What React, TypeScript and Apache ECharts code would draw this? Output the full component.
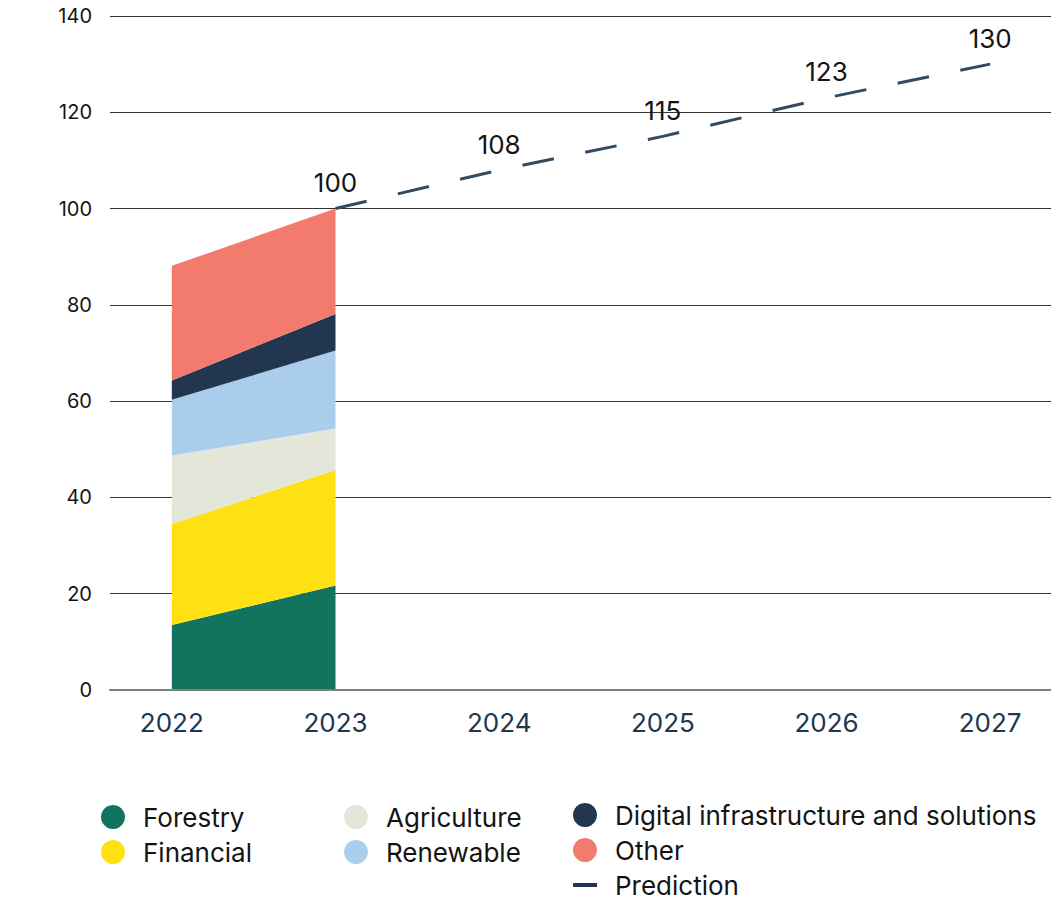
import React, { useEffect, useRef } from "react";
import * as echarts from "echarts";

const years = ["2022", "2023", "2024", "2025", "2026", "2027"];
const forestry = [13.5, 21.7];
const financial = [21.0, 24.0];
const agriculture = [14.2, 8.6];
const renewable = [11.6, 16.2];
const digital = [4.0, 7.6];
const other = [23.8, 21.9];
const prediction = ["-", 100, 108, 115, 123, 130];

const FONT = "Inter, 'Noto Sans', sans-serif";

export default function App() {
  const ref = useRef<HTMLDivElement>(null);
  useEffect(() => {
    document.body.style.margin = "0";
    const chart = echarts.init(ref.current!, null, { renderer: "svg" });
    const area = (name: string, data: number[], color: string) => ({
      name,
      type: "line",
      stack: "total",
      xAxisIndex: 1,
      yAxisIndex: 1,
      data,
      showSymbol: false,
      symbol: "none",
      lineStyle: { width: 0 },
      areaStyle: { color, opacity: 1 },
      itemStyle: { color },
      z: 2,
    });
    const legendText = {
      fontSize: 26,
      color: "#141414",
      fontFamily: FONT,
      lineHeight: 24,
      padding: [0, 0, 0, 13],
    };
    const legendBase = {
      orient: "vertical",
      itemWidth: 24,
      itemHeight: 24,
      itemGap: 9,
      padding: 0,
      icon: "circle",
      selectedMode: false,
      textStyle: legendText,
    };
    chart.setOption({
      animation: false,
      textStyle: { fontFamily: FONT },
      grid: [
        { left: 110, right: 0, top: 16, bottom: 210, outerBoundsMode: "none" },
        { left: 90, width: 982, top: 16, bottom: 210, outerBoundsMode: "none" },
      ],
      xAxis: [
        {
          type: "category",
          gridIndex: 0,
          data: years,
          axisLine: { show: true, lineStyle: { color: "#7f7f7f", width: 2 } },
          axisTick: { show: false },
          axisLabel: { show: false },
          splitLine: { show: false },
          z: 5,
        },
        {
          type: "category",
          gridIndex: 1,
          data: years,
          boundaryGap: true,
          axisLine: { show: false },
          axisTick: { show: false },
          axisLabel: { fontSize: 26, color: "#22364f", margin: 19, fontFamily: FONT },
        },
      ],
      yAxis: [
        {
          type: "value",
          gridIndex: 0,
          min: 0,
          max: 140,
          interval: 20,
          axisLine: { show: false },
          axisTick: { show: false },
          axisLabel: { fontSize: 20, color: "#141414", margin: 18, fontFamily: FONT },
          splitLine: { lineStyle: { color: "#333333", width: 1 } },
        },
        {
          type: "value",
          gridIndex: 1,
          min: 0,
          max: 140,
          interval: 20,
          show: false,
          splitLine: { show: false },
        },
      ],
      legend: [
        { ...legendBase, left: 101, top: 804, data: ["Forestry", "Financial"] },
        { ...legendBase, left: 344, top: 804, data: ["Agriculture", "Renewable"] },
        {
          ...legendBase,
          left: 573,
          top: 802,
          data: ["Digital infrastructure and solutions", "Other"],
        },
        {
          ...legendBase,
          left: 573,
          top: 872,
          itemHeight: 4,
          icon: "rect",
          data: [{ name: "Prediction", itemStyle: { color: "#22364f" } }],
        },
      ],
      series: [
        area("Forestry", forestry, "#12745f"),
        area("Financial", financial, "#ffe013"),
        area("Agriculture", agriculture, "#e3e6d8"),
        area("Renewable", renewable, "#aacdeb"),
        area("Digital infrastructure and solutions", digital, "#22364f"),
        area("Other", other, "#f37b6e"),
        {
          name: "Prediction",
          type: "line",
          xAxisIndex: 1,
          yAxisIndex: 1,
          data: prediction,
          symbol: "circle",
          symbolSize: 0.1,
          showSymbol: true,
          itemStyle: { color: "rgba(0,0,0,0)" },
          lineStyle: { color: "#334a63", width: 3, type: [32, 32] },
          label: {
            show: true,
            position: "top",
            distance: 13,
            fontSize: 26,
            color: "#141414",
            fontFamily: FONT,
          },
          z: 4,
        },
      ],
    });
    return () => chart.dispose();
  }, []);
  return <div ref={ref} style={{ width: 1051, height: 900 }} />;
}
